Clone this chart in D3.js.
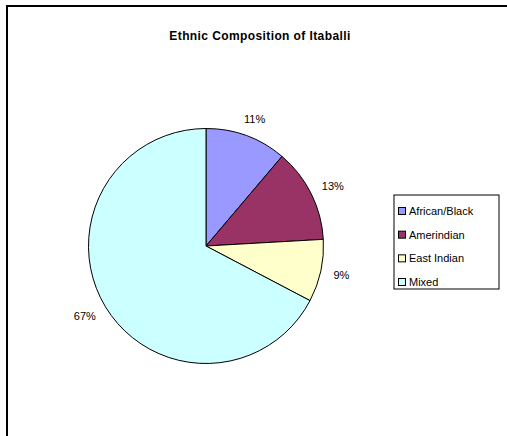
<!DOCTYPE html>
<html>
<head>
<meta charset="utf-8">
<script src="https://cdn.jsdelivr.net/npm/d3@7"></script>
<style>
  html, body { margin: 0; padding: 0; background: #fff; }
  svg { display: block; font-family: "Liberation Sans", Arial, sans-serif; }
</style>
</head>
<body>
<svg id="chart" width="507" height="436"></svg>
<script>
// Ethnic groups and their shares (percent) of the population
const categories = ["African/Black", "Amerindian", "East Indian", "Mixed"];
const shares = [11.2, 12.9, 8.6, 67.3];
const colors = ["#9999FF", "#993366", "#FFFFCC", "#CCFFFF"];
const title = "Ethnic Composition of Itaballi";

const svg = d3.select("#chart");

// Chart frame (runs past the right and bottom edges of the page)
svg.append("rect")
  .attr("x", 7).attr("y", 6)
  .attr("width", 520).attr("height", 460)
  .attr("fill", "#fff")
  .attr("stroke", "#000")
  .attr("stroke-width", 2);

svg.append("text")
  .attr("x", 260).attr("y", 40)
  .attr("text-anchor", "middle")
  .attr("font-size", 12)
  .attr("letter-spacing", 0.4)
  .attr("font-weight", "bold")
  .text(title);

const data = categories.map((c, i) => ({ name: c, value: shares[i], color: colors[i] }));

const cx = 206, cy = 246, r = 117.5;
const pie = d3.pie().sort(null).value(d => d.value).startAngle(0).endAngle(2 * Math.PI);
const arcs = pie(data);
const arc = d3.arc().innerRadius(0).outerRadius(r);

const g = svg.append("g").attr("transform", `translate(${cx},${cy})`);

g.selectAll("path")
  .data(arcs)
  .join("path")
  .attr("d", arc)
  .attr("fill", d => d.data.color)
  .attr("stroke", "#000")
  .attr("stroke-width", 1)
  .attr("stroke-linejoin", "round");

// Percentage labels placed just outside each slice
const fmt = d => Math.round(d.data.value) + "%";
const labelR = r + 13;
const labels = g.selectAll("text.pct")
  .data(arcs)
  .join("text")
  .attr("class", "pct")
  .attr("font-size", 11)
  .attr("text-anchor", "middle")
  .attr("dominant-baseline", "central")
  .text(fmt);

labels.each(function (d) {
  const a = (d.startAngle + d.endAngle) / 2;
  const s = Math.sin(a), c = Math.cos(a);
  const bb = this.getBBox();
  const x = labelR * s + (bb.width / 2) * s;
  const y = -labelR * c - 5 * c;
  d3.select(this).attr("x", x).attr("y", y);
});

// Legend
const lx = 394, ly = 195, lw = 105, lh = 94;
const legend = svg.append("g");
legend.append("rect")
  .attr("x", lx).attr("y", ly)
  .attr("width", lw).attr("height", lh)
  .attr("fill", "#fff")
  .attr("stroke", "#000")
  .attr("stroke-width", 1);

const rowY = d3.scalePoint().domain(categories).range([ly + 16, ly + 87]);

const items = legend.selectAll("g.item")
  .data(data)
  .join("g")
  .attr("class", "item")
  .attr("transform", d => `translate(${lx + 4},${rowY(d.name)})`);

items.append("rect")
  .attr("x", 0.5).attr("y", -3.5)
  .attr("width", 7).attr("height", 7)
  .attr("fill", d => d.color)
  .attr("stroke", "#000")
  .attr("stroke-width", 1);

items.append("text")
  .attr("x", 11)
  .attr("y", 0)
  .attr("dominant-baseline", "central")
  .attr("font-size", 11)
  .text(d => d.name);
</script>
</body>
</html>
